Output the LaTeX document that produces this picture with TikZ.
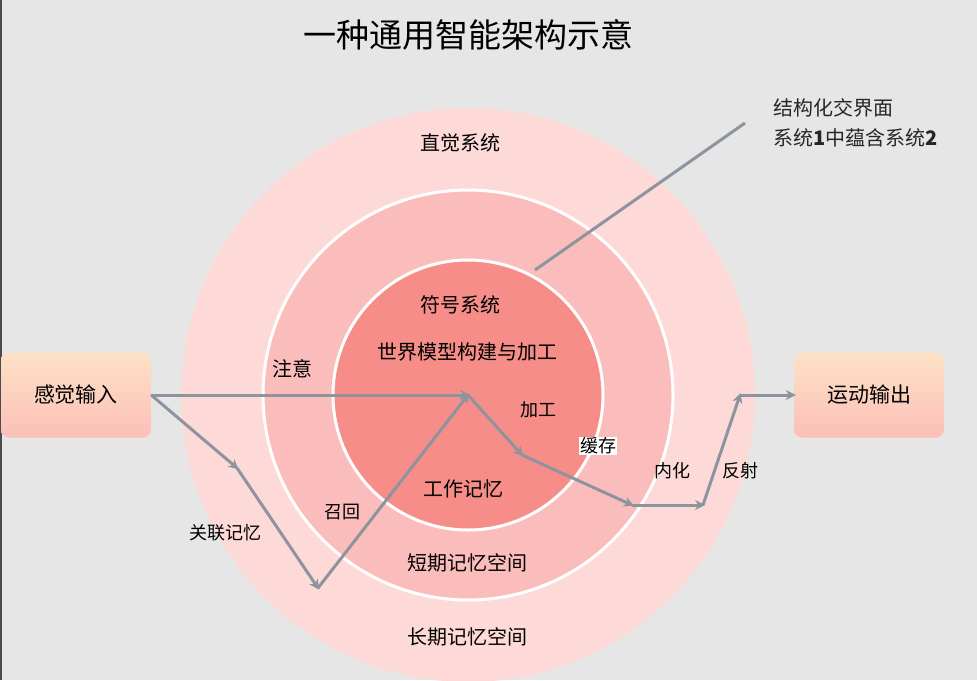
\documentclass[tikz,border=0pt]{standalone}
\usepackage{fontspec}
\setmainfont{Noto Sans CJK SC}
\usetikzlibrary{arrows.meta}
\definecolor{bg}{HTML}{E6E6E6}
\definecolor{c1}{HTML}{FDDAD8}
\definecolor{c2}{HTML}{FABDBB}
\definecolor{c3}{HTML}{F68D88}
\definecolor{ar}{HTML}{8E949E}
\definecolor{pa}{HTML}{FDE2C6}
\definecolor{pb}{HTML}{FBBFB8}
\tikzset{
  lbl/.style={font=\fontsize{20}{22}\selectfont, inner sep=1pt},
  ring/.style={draw=white, line width=3pt},
  arr/.style={draw=ar, line width=3pt, -{Stealth[length=10pt,width=10pt]}, shorten >=-2pt},
  io/.style={rounded corners=8pt, minimum width=150pt, minimum height=85pt, top color=pa, bottom color=pb, font=\fontsize{21}{23}\selectfont}
}
\begin{document}
\begin{tikzpicture}[x=1pt,y=-1pt]
\fill[bg] (0,0) rectangle (977,680);
\useasboundingbox (0,0) rectangle (977,680);
\draw[black!70, line width=1.5pt] (0.75,0) -- (0.75,680);
\begin{scope}
\clip (0,0) rectangle (977,680);
\fill[c1] (468,395) circle (287);
\end{scope}
\draw[ring, fill=c2] (468,395) circle (205);
\draw[ring, fill=c3] (468,395) circle (135);
\node[font=\fontsize{33}{35}\selectfont] (title) at (468,35) {一种通用智能架构示意};
\node[io] (in) at (76,395) {感觉输入};
\node[io] (out) at (869,395) {运动输出};
\coordinate (c) at (468,395);
\coordinate (a1) at (237,468);
\coordinate (a2) at (318,588);
\coordinate (b1) at (522,455);
\coordinate (b2) at (632,505);
\coordinate (b3) at (703,505);
\coordinate (b4) at (740,395);
\coordinate (s1) at (535,270);
\coordinate (s2) at (745,123);
\draw[arr] (in.east) -- (c);
\draw[arr] (in.east) -- (a1);
\draw[arr] (a1) -- (a2);
\draw[arr] (a2) -- (c);
\draw[arr] (c) -- (b1);
\draw[arr] (b1) -- (b2);
\draw[arr] (b2) -- (b3);
\draw[arr] (b3) -- (b4);
\draw[arr] (b4) -- (out.west);
\draw[ar, line width=3pt] (s1) -- (s2);
\node[lbl] (l1) at (460,143) {直觉系统};
\node[lbl] (l2) at (460,305) {符号系统};
\node[lbl] (l3) at (467,352) {世界模型构建与加工};
\node[lbl] (l4) at (292,369) {注意};
\node[lbl, font=\fontsize{18}{20}\selectfont] (l5) at (538,410) {加工};
\node[lbl, fill=white, font=\fontsize{18}{20}\selectfont] (l6) at (598,446) {缓存};
\node[lbl, font=\fontsize{18}{20}\selectfont] (l7) at (672,471) {内化};
\node[lbl, font=\fontsize{18}{20}\selectfont] (l8) at (740,471) {反射};
\node[lbl] (l9) at (463,489) {工作记忆};
\node[lbl, font=\fontsize{18}{20}\selectfont] (l10) at (342,512) {召回};
\node[lbl, font=\fontsize{18}{20}\selectfont] (l11) at (225,533) {关联记忆};
\node[lbl] (l12) at (467,563) {短期记忆空间};
\node[lbl] (l13) at (467,637) {长期记忆空间};
\node[lbl, align=left, anchor=west, text=black!85, font=\fontsize{20}{30}\selectfont] (l14) at (772,123) {结构化交界面\\系统\textbf{1}中蕴含系统\textbf{2}};
\end{tikzpicture}
\end{document}
